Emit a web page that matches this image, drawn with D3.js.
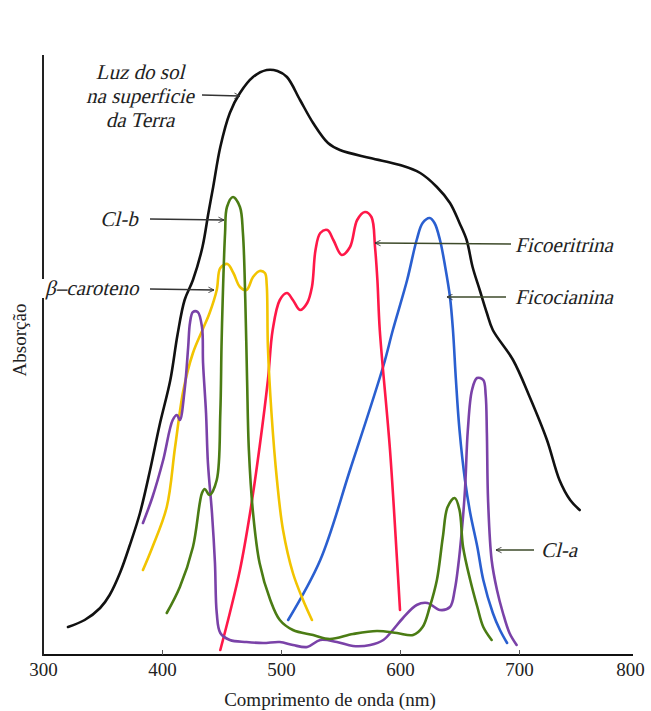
<!DOCTYPE html>
<html>
<head>
<meta charset="utf-8">
<script src="https://cdn.jsdelivr.net/npm/d3@7"></script>
<style>
  html, body { margin: 0; padding: 0; background: #fff; }
  svg { display: block; }
  text { font-family: "Liberation Serif", "Times New Roman", serif; fill: #222; }
</style>
</head>
<body>
<svg id="chart" width="651" height="711"></svg>
<script>
// ---- Data (wavelength in nm, relative absorption) ----
const xTicks = [300, 400, 500, 600, 700, 800];

const sunNm  = [321,335,348,356,365,373,381.5,390,398,407,413,419,426,434,439,443,449,457,465.5,476.5,488,497,505,516,527,539.5,549.5,575,600,617,631,642,650,656,661,667,673,678,695,709,723.5,734,743,751];
const sunAbs = [30,37,49,62,85,112,144,187,232,277,322,357,377,410,444,470,510,544,564,580,587,586,580,557,534,514,507,499,492,484,470,454,434,417,390,367,344,327,297,260,217,177,157,147];

const clbNm  = [404,415,426,433.6,436,440,446,449,450,451,453,454.6,459.7,465.5,468,470,471.5,473,476.5,482,491,499,510,527,541,560.5,580.6,597.5,611,619,625,631,636,640,646,650,653,659,665,670,677];
const clbAbs = [44,70,110,164,168,162,177,244,310,357,424,450,460,450,424,357,277,207,144,94,57,37,27,22,18,23,26,24,22,30,50,77,120,150,159,147,110,77,50,30,17];

const carNm  = [384,392,404,411,418,426,434,440,446,449,455,460,465.5,471,476.5,482,486.5,488,489,492,496.6,501.7,510,518.5,526];
const carAbs = [87,110,150,210,267,304,327,344,367,389,393,384,370,367,380,386,384,372,310,244,177,127,84,57,37];

const claNm  = [384,392,401,409,412.6,415,419,422,423.5,426,430,433.6,434.5,437,438.6,442,444.5,446,449,457,471,485,499,510,522,533,547,560.5,575,586,594,602.5,614,623,633.6,642,646,649,652,654.6,657,660.5,664.7,670,672,673,674,677,681.5,686.5,692,698];
const claAbs = [134,160,197,237,242,237,267,310,334,345,345,330,294,244,194,144,94,44,24,17,15,14,15,12,10,17,15,11,12,17,27,39,52,54,47,50,67,92,127,167,227,267,279,277,262,224,157,97,67,44,24,12];

const ficoeNm  = [449,457,465.5,474,482,489,493,499,505,510,516,522,526,529,533,539,544,551,558,564,570.5,576,579,581,583,591.6,597.5,600];
const ficoeAbs = [7,44,87,144,210,277,327,357,364,357,347,354,370,407,424,427,417,402,410,437,445,440,410,377,327,207,97,47];

const ficocNm  = [506,533,558,586,594,606,614,619,625,629,633.6,638,642,644.5,647,650,654.6,659,665,670,678,684,690];
const ficocAbs = [37,97,187,291,327,377,417,434,439,434,417,390,360,327,277,227,177,144,110,77,44,27,14];

const seriesNames  = ["Luz do sol", "Cl-b", "β–caroteno", "Cl-a", "Ficoeritrina", "Ficocianina"];
const seriesColors = ["#111111", "#4b7c14", "#f2c400", "#7a42a8", "#ff1848", "#2a5fd0"];

// ---- Layout ----
const svg = d3.select("#chart");
const x = d3.scaleLinear().domain([300, 800]).range([43, 638]);
const y = d3.scaleLinear().domain([0, 600]).range([657, 57]);

const zip = (a, b) => a.map((v, i) => [v, b[i]]);
const series = [
  zip(sunNm, sunAbs), zip(clbNm, clbAbs), zip(carNm, carAbs),
  zip(claNm, claAbs), zip(ficoeNm, ficoeAbs), zip(ficocNm, ficocAbs)
];

// arrow marker
const defs = svg.append("defs");
defs.append("marker")
  .attr("id", "arr").attr("viewBox", "0 0 10 10")
  .attr("refX", 9).attr("refY", 5)
  .attr("markerWidth", 7).attr("markerHeight", 7)
  .attr("markerUnits", "userSpaceOnUse")
  .attr("orient", "auto")
  .append("path").attr("d", "M1,1 L9,5 L1,9")
  .attr("fill", "none").attr("stroke", "#333").attr("stroke-width", 1.2);

// axes
const xAxis = d3.axisBottom(x).tickValues(xTicks).tickSizeInner(-5).tickSizeOuter(0).tickPadding(8);
const gx = svg.append("g").attr("transform", "translate(0,655)").call(xAxis);
gx.select(".domain").attr("d", "M43,0H633").attr("stroke", "#111").attr("stroke-width", 2);
gx.selectAll(".tick line").attr("stroke", "#555");
gx.selectAll(".tick text").attr("font-size", 19).attr("font-family", "Liberation Serif, serif").attr("fill", "#333");
gx.selectAll(".tick").filter(d => d === 800).select("text").attr("dx", -8);
gx.selectAll(".tick").filter(d => d === 800 || d === 300).select("line").remove();

svg.append("line").attr("x1", 43).attr("x2", 43).attr("y1", 55).attr("y2", 656)
  .attr("stroke", "#222").attr("stroke-width", 2);

svg.append("text").attr("x", 330).attr("y", 706).attr("text-anchor", "middle")
  .attr("font-size", 19).text("Comprimento de onda (nm)");
svg.append("text").attr("transform", "translate(26,340) rotate(-90)").attr("text-anchor", "middle")
  .attr("font-size", 19).text("Absorção");

// curves
const line = d3.line().x(d => x(d[0])).y(d => y(d[1])).curve(d3.curveCatmullRom.alpha(0.5));
const drawOrder = [0, 5, 4, 2, 3, 1];
drawOrder.forEach(i => {
  svg.append("path").datum(series[i])
    .attr("d", line)
    .attr("fill", "none")
    .attr("stroke", seriesColors[i])
    .attr("stroke-width", 2.6)
    .attr("stroke-linejoin", "round")
    .attr("stroke-linecap", "round");
});

// labels + arrows
function arrow(x1, y1, x2, y2, col) {
  svg.append("line").attr("x1", x1).attr("y1", y1).attr("x2", x2).attr("y2", y2)
    .attr("stroke", col || "#333").attr("stroke-width", 1.3).attr("marker-end", "url(#arr)");
}
// white patch behind β–caroteno (breaks the y axis like the original)
svg.append("rect").attr("x", 40).attr("y", 279).attr("width", 106).attr("height", 19).attr("fill", "#fff");

const lab = svg.append("g");
function label(t, lx, ly, anchor) {
  lab.append("text")
    .attr("transform", `translate(${lx},${ly}) skewX(-14)`)
    .attr("text-anchor", anchor || "start")
    .attr("font-size", 21)
    .attr("fill", "#1e1e18")
    .text(t);
}

["Luz do sol", "na superficie", "da Terra"].forEach((t, i) => label(t, 140, 79 + i * 24, "middle"));
arrow(202, 95, 240, 96);

label("Cl-b", 119, 226, "middle");
arrow(150, 219, 224, 220);

label("β–caroteno", 45, 295);
arrow(150, 289, 214, 290);

label("Ficoeritrina", 515, 252);
arrow(511, 244, 375, 243, "#3d4a2a");

label("Ficocianina", 515, 304);
arrow(506, 297, 447, 297, "#3d4a2a");

label("Cl-a", 541, 557);
arrow(534, 550, 496, 550, "#3d4a2a");
</script>
</body>
</html>
